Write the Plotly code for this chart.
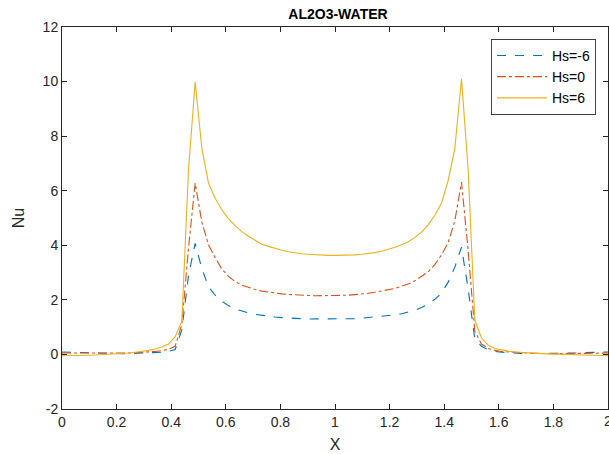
import plotly.graph_objects as go

x_vals = [0, 0.02439, 0.04878, 0.07317, 0.09756, 0.12195, 0.14634, 0.17073, 0.19512, 0.21951,
          0.2439, 0.26829, 0.29268, 0.31707, 0.34146, 0.36585, 0.39024, 0.41463, 0.43902, 0.46341,
          0.4878, 0.5122, 0.53659, 0.56098, 0.58537, 0.60976, 0.63415, 0.65854, 0.68293, 0.70732,
          0.73171, 0.7561, 0.78049, 0.80488, 0.82927, 0.85366, 0.87805, 0.90244, 0.92683, 0.95122,
          0.97561, 1.0, 1.02439, 1.04878, 1.07317, 1.09756, 1.12195, 1.14634, 1.17073, 1.19512,
          1.21951, 1.2439, 1.26829, 1.29268, 1.31707, 1.34146, 1.36585, 1.39024, 1.41463, 1.43902,
          1.46341, 1.4878, 1.5122, 1.53659, 1.56098, 1.58537, 1.60976, 1.63415, 1.65854, 1.68293,
          1.70732, 1.73171, 1.7561, 1.78049, 1.80488, 1.82927, 1.85366, 1.87805, 1.90244, 1.92683,
          1.95122, 1.97561, 2.0]

nu_hs_m6 = [0.09, 0.09, 0.08, 0.07, 0.06, 0.05, 0.04, 0.04, 0.03, 0.03,
            0.03, 0.04, 0.04, 0.05, 0.06, 0.08, 0.11, 0.18, 0.9, 2.9,
            4.07, 3.15, 2.48, 2.17, 1.95, 1.79, 1.67, 1.59, 1.52, 1.47,
            1.43, 1.40, 1.37, 1.35, 1.33, 1.32, 1.31, 1.30, 1.30, 1.30,
            1.30, 1.30, 1.30, 1.31, 1.31, 1.33, 1.35, 1.37, 1.40, 1.42,
            1.45, 1.49, 1.55, 1.62, 1.72, 1.85, 2.02, 2.25, 2.65, 3.2,
            3.93, 2.4, 0.55, 0.3, 0.17, 0.11, 0.08, 0.06, 0.05, 0.04,
            0.03, 0.03, 0.03, 0.03, 0.04, 0.04, 0.05, 0.05, 0.06, 0.07,
            0.08, 0.08, 0.09]

nu_hs_0 = [0.05, 0.05, 0.04, 0.04, 0.03, 0.03, 0.03, 0.03, 0.03, 0.04,
           0.05, 0.06, 0.07, 0.09, 0.11, 0.14, 0.19, 0.30, 1.1, 3.9,
           6.28, 4.85, 4.02, 3.55, 3.13, 2.86, 2.67, 2.54, 2.45, 2.38,
           2.32, 2.28, 2.25, 2.22, 2.20, 2.18, 2.17, 2.16, 2.15, 2.15,
           2.15, 2.15, 2.16, 2.17, 2.19, 2.21, 2.24, 2.28, 2.32, 2.37,
           2.42, 2.50, 2.58, 2.70, 2.85, 3.03, 3.30, 3.65, 4.10, 4.90,
           6.32, 3.8, 0.85, 0.38, 0.22, 0.15, 0.11, 0.09, 0.07, 0.06,
           0.05, 0.04, 0.03, 0.03, 0.03, 0.03, 0.03, 0.03, 0.04, 0.04,
           0.05, 0.05, 0.05]

nu_hs_6 = [-0.05, -0.05, -0.04, -0.04, -0.03, -0.02, -0.01, 0.0, 0.02, 0.03,
           0.05, 0.08, 0.11, 0.15, 0.20, 0.27, 0.38, 0.65, 1.22, 6.76,
           9.98, 7.56, 6.28, 5.72, 5.30, 4.98, 4.72, 4.50, 4.33, 4.18,
           4.04, 3.96, 3.88, 3.82, 3.76, 3.72, 3.69, 3.67, 3.65, 3.64,
           3.63, 3.63, 3.63, 3.64, 3.65, 3.67, 3.69, 3.73, 3.78, 3.85,
           3.93, 4.02, 4.13, 4.29, 4.48, 4.75, 5.10, 5.55, 6.38, 7.55,
           10.1, 6.76, 1.26, 0.6, 0.34, 0.22, 0.16, 0.12, 0.09, 0.07,
           0.05, 0.04, 0.03, 0.02, 0.01, 0.0, -0.01, -0.02, -0.03, -0.03,
           -0.04, -0.05, -0.05]

series_names = ["Hs=-6", "Hs=0", "Hs=6"]
x_ticks = [0, 0.2, 0.4, 0.6, 0.8, 1, 1.2, 1.4, 1.6, 1.8, 2]
x_tick_labels = ["0", "0.2", "0.4", "0.6", "0.8", "1", "1.2", "1.4", "1.6", "1.8", "2"]
y_ticks = [-2, 0, 2, 4, 6, 8, 10, 12]
y_tick_labels = ["-2", "0", "2", "4", "6", "8", "10", "12"]

colors = ["#0072BD", "#D95319", "#EDB120"]
dashes = ["dash", "dashdot", "solid"]

fig = go.Figure()
for name, ys, c, d in zip(series_names, [nu_hs_m6, nu_hs_0, nu_hs_6], colors, dashes):
    fig.add_trace(go.Scatter(x=x_vals, y=ys, mode="lines", name=name,
                             line=dict(color=c, width=1.1, dash=d)))

fam = "Liberation Sans, Arial, sans-serif"
axis_font = dict(family=fam, size=14, color="#262626")
fig.update_layout(
    width=609, height=454,
    margin=dict(l=62, r=1, t=27, b=45),
    paper_bgcolor="white", plot_bgcolor="white",
    font=axis_font,
    title=dict(text="<b>AL2O3-WATER</b>", x=0.555, xanchor="center", y=0.97, yanchor="middle",
               font=dict(family=fam, size=14, color="#000000")),
    legend=dict(x=0.978, y=0.969, xanchor="right", yanchor="top",
                bgcolor="white", bordercolor="#404040", borderwidth=1,
                font=dict(family=fam, size=14, color="#000000"),
                tracegroupgap=0, itemwidth=50),
    showlegend=True,
)
# last x tick label (clipped by the window edge, as in the reference)
fig.add_annotation(x=x_ticks[-1], y=0, xref="x", yref="paper", yanchor="top",
                   text=x_tick_labels[-1], showarrow=False, yshift=-2,
                   font=dict(family=fam, size=14, color="#262626"))
fig.update_xaxes(range=[0, 2], tickvals=x_ticks, ticktext=x_tick_labels,
                 showline=True, linecolor="#262626", linewidth=1, mirror="ticks",
                 ticks="inside", ticklen=5, tickcolor="#262626", showgrid=False, zeroline=False,
                 title=dict(text="X", font=dict(size=16, color="#262626"), standoff=10))
fig.update_yaxes(range=[-2, 12], tickvals=y_ticks, ticktext=y_tick_labels,
                 showline=True, linecolor="#262626", linewidth=1, mirror="ticks",
                 ticks="inside", ticklen=5, tickcolor="#262626", showgrid=False, zeroline=False,
                 title=dict(text="Nu", font=dict(size=16, color="#262626"), standoff=14))

fig.write_html("out.html")
